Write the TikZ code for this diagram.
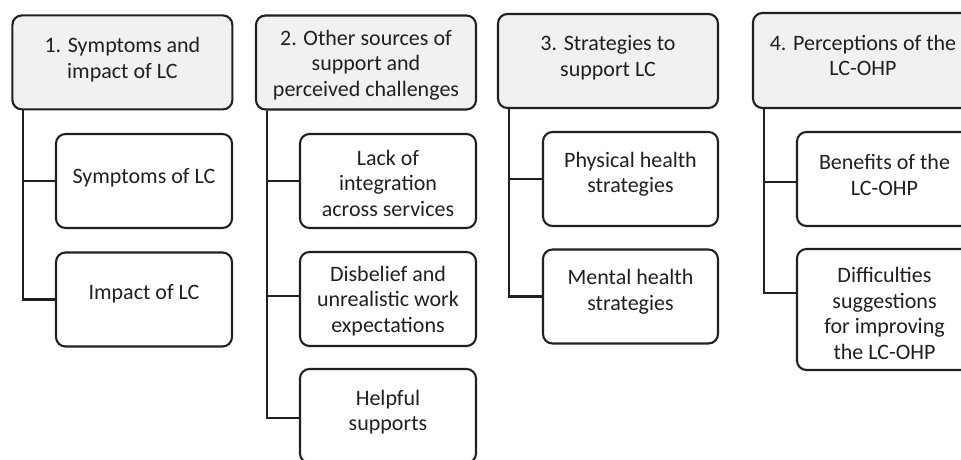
\documentclass[tikz,border=0pt]{standalone}
\usepackage{fontspec}
\setmainfont{Carlito}
\definecolor{ink}{HTML}{231F20}
\definecolor{headfill}{HTML}{F1F1F2}

\tikzset{
  card/.style={draw=ink, line width=2.1pt, rounded corners=9.5pt, fill=white,
               minimum height=94pt, inner sep=0pt},
  headcard/.style={card, fill=headfill, minimum width=220pt},
  subcard/.style={card, minimum width=176pt},
  caption/.style={align=center, text=ink, inner sep=0pt,
                  font=\fontsize{22}{25.5}\selectfont},
  link/.style={draw=ink, line width=2.1pt}
}

\begin{document}
\begin{tikzpicture}[x=1pt, y=-1pt]
\clip (0,0) rectangle (961,459);
\fill[white] (0,0) rectangle (961,459);

% Theme headers
\node[headcard] (h1) at (122.4,62.4) {};
\node[caption] (h1t) at ([yshift=3pt]h1.center) {1. Symptoms and\\impact of LC};
\node[headcard] (h2) at (366,62.5) {};
\node[caption] (h2t) at ([yshift=-2.5pt]h2.center) {2. Other sources of\\support and\\perceived challenges};
\node[headcard] (h3) at (608,61) {};
\node[caption] (h3t) at ([yshift=3.5pt]h3.center) {3. Strategies to\\support LC};
\node[headcard, minimum height=95pt] (h4) at (863,60.5) {};
\node[caption] (h4t) at ([yshift=5pt]h4.center) {4. Perceptions of the\\LC-OHP};

% Sub-themes, column 1
\node[subcard] (b11) at (144,181) {};
\node[caption] (b11t) at ([yshift=3pt]b11.center) {Symptoms of LC};
\node[subcard] (b12) at (144,299.5) {};
\node[caption] (b12t) at ([yshift=5.5pt]b12.center) {Impact of LC};

% Sub-themes, column 2
\node[subcard] (b21) at (388,181) {};
\node[caption] (b21t) at ([yshift=-2pt]b21.center) {Lack of\\integration\\across services};
\node[subcard] (b22) at (388,299) {};
\node[caption] (b22t) at ([yshift=-2pt]b22.center) {Disbelief and\\unrealistic work\\expectations};
\node[subcard] (b23) at (388,416) {};
\node[caption] (b23t) at ([yshift=4pt]b23.center) {Helpful\\supports};

% Sub-themes, column 3
\node[subcard, minimum width=175pt] (b31) at (630.5,179) {};
\node[caption] (b31t) at ([yshift=5pt]b31.center) {Physical health\\strategies};
\node[subcard, minimum width=175pt] (b32) at (630.5,296.5) {};
\node[caption] (b32t) at ([yshift=5pt]b32.center) {Mental health\\strategies};

% Sub-themes, column 4
\node[subcard, minimum width=175pt] (b41) at (884.5,179) {};
\node[caption] (b41t) at ([yshift=4pt]b41.center) {Benefits of the\\LC-OHP};
\node[subcard, minimum width=175pt, minimum height=121pt] (b42) at (884.5,309.5) {};
\node[caption] (b42t) at ([yshift=-4pt]b42.center) {Difficulties\\suggestions\\for improving\\the LC-OHP};

% Tree connectors
\draw[link] ([xshift=12pt]h1.south west) |- (b11.west);
\draw[link] ([xshift=12pt]h1.south west) |- (b12.west);
\draw[link] ([xshift=12pt]h2.south west) |- (b21.west);
\draw[link] ([xshift=12pt]h2.south west) |- ([yshift=3pt]b22.west);
\draw[link] ([xshift=12pt]h2.south west) |- ([yshift=-2pt]b23.west);
\draw[link] ([xshift=12pt]h3.south west) |- (b31.west);
\draw[link] ([xshift=12pt]h3.south west) |- (b32.west);
\draw[link] ([xshift=12pt]h4.south west) |- ([yshift=-3pt]b41.west);
\draw[link] ([xshift=12pt]h4.south west) |- ([yshift=16.5pt]b42.west);
\end{tikzpicture}
\end{document}
